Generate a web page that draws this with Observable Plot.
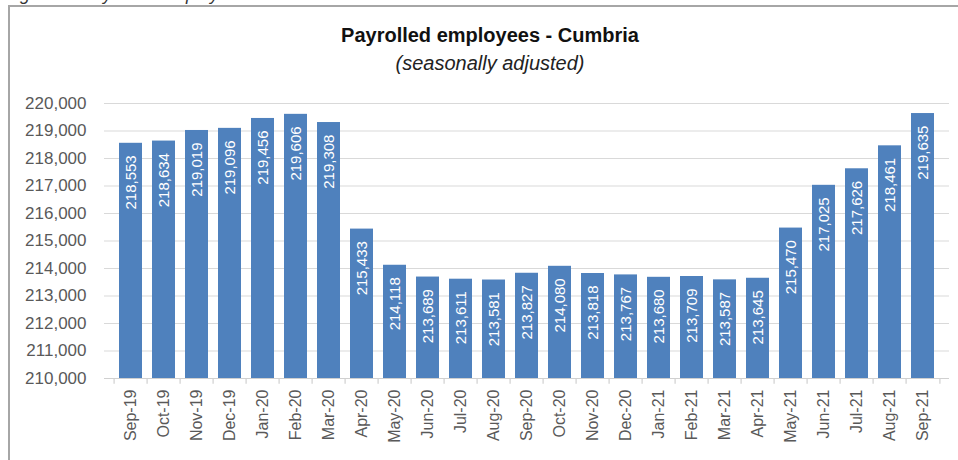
<!DOCTYPE html>
<html>
<head>
<meta charset="utf-8">
<script src="https://cdn.jsdelivr.net/npm/d3@7"></script>
<script src="https://cdn.jsdelivr.net/npm/@observablehq/plot@0.6"></script>
<style>
  html, body { margin: 0; padding: 0; background: #fff; overflow: hidden; }
  body { width: 958px; height: 460px; position: relative; font-family: "Liberation Sans", Arial, sans-serif; }
  #caption { position: absolute; left: 5px; top: -16px; font-size: 18px; font-style: italic; color: #333; white-space: nowrap; }
  #frame { position: absolute; left: 8px; top: 5px; width: 960px; height: 470px; border-left: 2px solid #a6a6a6; border-top: 2px solid #a6a6a6; box-sizing: border-box; }
  #title { position: absolute; left: 0; width: 980px; top: 24px; text-align: center; font-size: 20px; font-weight: bold; color: #111; }
  #subtitle { position: absolute; left: 0; width: 980px; top: 52px; text-align: center; font-size: 20px; font-style: italic; color: #222; }
  #chart { position: absolute; left: 0; top: 90px; }
</style>
</head>
<body>
<div id="caption">Figure 1: Payrolled employees – Cumbria</div>
<div id="frame"></div>
<div id="title">Payrolled employees - Cumbria</div>
<div id="subtitle">(seasonally adjusted)</div>
<div id="chart"></div>
<script>
const months = ["Sep-19","Oct-19","Nov-19","Dec-19","Jan-20","Feb-20","Mar-20","Apr-20","May-20","Jun-20","Jul-20","Aug-20","Sep-20","Oct-20","Nov-20","Dec-20","Jan-21","Feb-21","Mar-21","Apr-21","May-21","Jun-21","Jul-21","Aug-21","Sep-21"];
const employees = [218553,218634,219019,219096,219456,219606,219308,215433,214118,213689,213611,213581,213827,214080,213818,213767,213680,213709,213587,213645,215470,217025,217626,218461,219635];
const yTicks = [210000,211000,212000,213000,214000,215000,216000,217000,218000,219000,220000];

const data = months.map((m, i) => ({month: m, value: employees[i]}));
const fmt = d3.format(",");

const W = 958, H = 370, ML = 104, MR = 9, MT = 13, MB = 82;
const step = (W - ML - MR) / months.length;

const chart = Plot.plot({
  width: W,
  height: H,
  marginLeft: ML,
  marginRight: MR,
  marginTop: MT,
  marginBottom: MB,
  style: {fontFamily: "Liberation Sans, Arial, sans-serif", background: "transparent"},
  x: {domain: months, paddingInner: 0.3, paddingOuter: 0.15, label: null},
  y: {domain: [210000, 220000], label: null},
  marks: [
    Plot.ruleY(yTicks.slice(1), {stroke: "#d9d9d9", strokeWidth: 1.2}),
    Plot.barY(data, {x: "month", y1: 210000, y2: "value", fill: "#4f81bd"}),
    Plot.ruleY([210000], {stroke: "#d0d0d0", strokeWidth: 1.2}),
    Plot.ruleX(months, {x: d => d, y1: 210000, y2: 209790, dx: -step / 2, stroke: "#d0d0d0", strokeWidth: 1.2}),
    Plot.ruleX([months[months.length - 1]], {x: d => d, y1: 210000, y2: 209790, dx: step / 2, stroke: "#d0d0d0", strokeWidth: 1.2}),
    Plot.text(data, {x: "month", y: "value", text: d => fmt(d.value), rotate: -90, textAnchor: "end", dy: 12, fill: "white", fontSize: 15}),
    Plot.axisY({ticks: yTicks, tickFormat: fmt, tickSize: 0, tickPadding: 18, fontSize: 17, color: "#595959", label: null}),
    Plot.axisX({tickSize: 0, tickPadding: 11, tickRotate: -90, fontSize: 16, color: "#595959", label: null})
  ]
});
document.getElementById("chart").appendChild(chart);
</script>
</body>
</html>
